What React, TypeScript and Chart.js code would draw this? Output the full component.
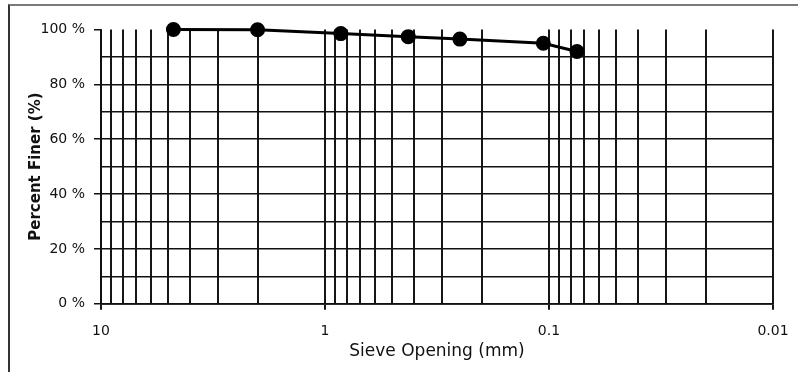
import React, { useEffect, useRef } from "react";
import { Chart, registerables } from "chart.js";

Chart.register(...registerables);

// Sieve opening (mm) and percent finer (%)
const sieveOpenings = [4.75, 2.0, 0.85, 0.425, 0.25, 0.106, 0.075];
const percentFiner = [100, 99.9, 98.5, 97.4, 96.5, 95.0, 92.0];

// Axis labels
const xMajorTicks = [10, 1, 0.1, 0.01];
const xMajorLabels = ["10", "1", "0.1", "0.01"];
const yTickStep = 10;
const yLabelStep = 20;

const xTitle = "Sieve Opening (mm)";
const yTitle = "Percent Finer (%)";

function buildLogGridValues(): number[] {
  const vals: number[] = [];
  const decades = [0.01, 0.1, 1];
  for (const d of decades) {
    for (let m = 1; m <= 9; m++) {
      vals.push(parseFloat((m * d).toPrecision(6)));
    }
  }
  vals.push(10);
  return vals;
}

export default function App() {
  const canvasRef = useRef<HTMLCanvasElement | null>(null);

  useEffect(() => {
    document.body.style.margin = "0";
    document.body.style.overflow = "hidden";
    const canvas = canvasRef.current;
    if (!canvas) return;
    const gridVals = buildLogGridValues();
    const isMajor = (v: number) => xMajorTicks.some((m) => Math.abs(m - v) / m < 1e-6);

    const chart = new Chart(canvas, {
      type: "line",
      data: {
        datasets: [
          {
            data: sieveOpenings.map((x, i) => ({ x, y: percentFiner[i] })),
            borderColor: "#000",
            backgroundColor: "#000",
            borderWidth: 3,
            pointRadius: 6,
            pointHoverRadius: 6,
            pointBackgroundColor: "#000",
            pointBorderColor: "#000",
            tension: 0,
            clip: false,
          },
        ],
      },
      options: {
        animation: false,
        responsive: false,
        maintainAspectRatio: false,
        layout: { padding: { left: 23, right: 25, top: 29.5, bottom: 6 } },
        plugins: { legend: { display: false }, tooltip: { enabled: false } },
        scales: {
          x: {
            type: "logarithmic",
            reverse: true,
            min: 0.01,
            max: 10,
            afterBuildTicks: (scale: any) => {
              scale.ticks = gridVals.map((v) => ({ value: v, major: isMajor(v) }));
            },
            afterFit: (scale: any) => {
              scale.height = 372 - 6 - 303.7;
            },
            ticks: {
              autoSkip: false,
              maxRotation: 0,
              minRotation: 0,
              padding: 13,
              color: "#111",
              font: { family: "DejaVu Sans", size: 14 },
              callback: (value: any) => {
                const v = Number(value);
                const idx = xMajorTicks.findIndex((m) => Math.abs(m - v) / m < 1e-6);
                return idx >= 0 ? xMajorLabels[idx] : "";
              },
            },
            grid: {
              color: "#161616",
              lineWidth: 2,
              drawTicks: true,
              tickLength: 6,
              tickColor: (ctx: any) => (ctx.tick && isMajor(ctx.tick.value) ? "#161616" : "rgba(0,0,0,0)"),
            },
            border: { display: true, color: "#111", width: 1.8 },
            title: {
              display: true,
              text: xTitle,
              color: "#111",
              font: { family: "DejaVu Sans", size: 17 },
              padding: { top: 4, bottom: 4 },
            },
          },
          y: {
            type: "linear",
            min: 0,
            max: 100,
            afterBuildTicks: (scale: any) => {
              const t: any[] = [];
              for (let v = 0; v <= 100; v += yTickStep) t.push({ value: v });
              scale.ticks = t;
            },
            afterFit: (scale: any) => {
              scale.width = 101 - 23;
            },
            ticks: {
              autoSkip: false,
              padding: 9,
              color: "#111",
              font: { family: "DejaVu Sans", size: 14 },
              callback: (value: any) => {
                const v = Number(value);
                return v % yLabelStep === 0 ? `${v} %` : "";
              },
            },
            grid: {
              color: (ctx: any) => (ctx.tick && ctx.tick.value === 100 ? "rgba(0,0,0,0)" : "#111"),
              lineWidth: 1.5,
              drawTicks: true,
              tickLength: 7,
              tickColor: (ctx: any) => (ctx.tick && ctx.tick.value % yLabelStep === 0 ? "#111" : "rgba(0,0,0,0)"),
            },
            border: { display: true, color: "#111", width: 1.8 },
            title: {
              display: true,
              text: yTitle,
              color: "#111",
              font: { family: "DejaVu Sans", size: 15, weight: "bold" },
              padding: { top: 4, bottom: 4 },
            },
          },
        },
      },
    } as any);

    return () => {
      chart.destroy();
    };
  }, []);

  return (
    <div style={{ position: "fixed", left: 0, top: 0, width: 798, height: 372, overflow: "hidden", background: "#fff" }}>
      <div
        style={{
          position: "absolute",
          left: 8,
          top: 4,
          width: 900,
          height: 500,
          borderTop: "2px solid #7a7a7a",
          borderLeft: "2px solid #333",
        }}
      />
      <canvas
        ref={canvasRef}
        width={798}
        height={372}
        style={{ position: "absolute", left: 0, top: 0, width: 798, height: 372 }}
      />
    </div>
  );
}
